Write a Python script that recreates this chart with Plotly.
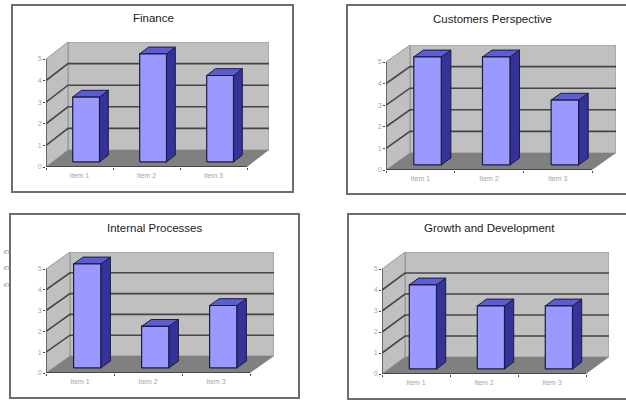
import plotly.graph_objects as go

# Scores per scorecard perspective
titles = ["Finance", "Customers Perspective", "Internal Processes", "Growth and Development"]
items = ["Item 1", "Item 2", "Item 3"]
finance = [3, 5, 4]
customers = [5, 5, 3]
internal = [5, 2, 3]
growth = [4, 3, 3]
value_ticks = [0, 1, 2, 3, 4, 5]
series = [finance, customers, internal, growth]

WIDTH, HEIGHT = 626, 400

# Panel placement in pixels: card frame, plot origin, front width, value-5 height, oblique depth
panels = [
    dict(frame=(12, 5, 293, 192), origin=(46, 167), w=201, h=108, dx=22, dy=17, title=(153, 18)),
    dict(frame=(347, 5, 660, 194), origin=(386, 170), w=206, h=108, dx=24, dy=17, title=(492, 19)),
    dict(frame=(10, 214, 299, 398), origin=(46, 373), w=204, h=104, dx=24, dy=17, title=(154, 228)),
    dict(frame=(348, 214, 660, 399), origin=(382, 374), w=204, h=105, dx=23, dy=17, title=(490, 228)),
]

WALL, FLOOR = "#c0c0c0", "#808080"
FRONT, TOP, SIDE = "#9999ff", "#5c5cd6", "#333399"
EDGE, GRID, BORDER = "#1c1c3c", "#454545", "#8a8a8a"
VMAX, NCAT = 5, 3
BAR_START, BAR_DEPTH, BAR_LEFT, BAR_WIDTH = 0.3, 0.4, 0.3, 0.4

fig = go.Figure()


def poly(axis, xs, ys, fill, line=None, width=1):
    fig.add_trace(go.Scatter(
        x=xs, y=ys, xaxis=f"x{axis}", yaxis=f"y{axis}", mode="lines",
        fill="toself" if fill else None, fillcolor=fill,
        line=dict(color=line or fill, width=width if line else 0),
        showlegend=False, hoverinfo="skip", cliponaxis=False,
    ))


shapes, annotations, layout_axes = [], [], {}

for n, (p, title, values) in enumerate(zip(panels, titles, series), start=1):
    ox, oy = p["origin"]
    # Depth expressed in data units so the oblique projection follows the axes
    cx = p["dx"] / (p["w"] / NCAT)
    cy = p["dy"] / (p["h"] / VMAX)

    def pt(x, v, d):
        return x + d * cx, v + d * cy

    # Card frame behind the plot
    x0, y0, x1, y1 = p["frame"]
    shapes.append(dict(type="rect", xref="paper", yref="paper", layer="below",
                       x0=x0 / WIDTH, x1=x1 / WIDTH, y0=1 - y0 / HEIGHT, y1=1 - y1 / HEIGHT,
                       fillcolor="white", line=dict(color="#6e6e6e", width=2)))

    # Back wall, side wall and floor
    bx = [pt(0, 0, 1)[0], pt(NCAT, 0, 1)[0], pt(NCAT, VMAX, 1)[0], pt(0, VMAX, 1)[0], pt(0, 0, 1)[0]]
    by = [pt(0, 0, 1)[1], pt(NCAT, 0, 1)[1], pt(NCAT, VMAX, 1)[1], pt(0, VMAX, 1)[1], pt(0, 0, 1)[1]]
    poly(n, bx, by, WALL, BORDER, 0.8)
    sx = [0, pt(0, 0, 1)[0], pt(0, VMAX, 1)[0], 0, 0]
    sy = [0, pt(0, 0, 1)[1], pt(0, VMAX, 1)[1], VMAX, 0]
    poly(n, sx, sy, WALL, BORDER, 0.8)
    fx = [0, NCAT, pt(NCAT, 0, 1)[0], pt(0, 0, 1)[0], 0]
    fy = [0, 0, pt(NCAT, 0, 1)[1], pt(0, 0, 1)[1], 0]
    poly(n, fx, fy, FLOOR)

    # Grid lines run along the side wall and across the back wall
    for v in value_ticks[1:-1]:
        a, b, c = pt(0, v, 0), pt(0, v, 1), pt(NCAT, v, 1)
        poly(n, [a[0], b[0], c[0]], [a[1], b[1], c[1]], None, GRID, 1.6)

    # Front axis lines
    poly(n, [0, 0], [0, VMAX], None, GRID, 1.3)
    poly(n, [0, NCAT], [0, 0], None, GRID, 1.8)

    # Oblique columns: side, top and front faces
    for i, v in enumerate(values):
        l, r = i + BAR_LEFT, i + BAR_LEFT + BAR_WIDTH
        d0, d1 = BAR_START, BAR_START + BAR_DEPTH
        corners = [pt(r, 0, d0), pt(r, 0, d1), pt(r, v, d1), pt(r, v, d0), pt(r, 0, d0)]
        poly(n, [c[0] for c in corners], [c[1] for c in corners], SIDE, EDGE, 1)
        corners = [pt(l, v, d0), pt(r, v, d0), pt(r, v, d1), pt(l, v, d1), pt(l, v, d0)]
        poly(n, [c[0] for c in corners], [c[1] for c in corners], TOP, EDGE, 1)
        corners = [pt(l, 0, d0), pt(r, 0, d0), pt(r, v, d0), pt(l, v, d0), pt(l, 0, d0)]
        poly(n, [c[0] for c in corners], [c[1] for c in corners], FRONT, EDGE, 1.2)

    tick_font = dict(family="Liberation Sans", size=7, color="#a6a6a6")
    suffix = "" if n == 1 else str(n)
    layout_axes[f"xaxis{suffix}"] = dict(
        domain=[ox / WIDTH, (ox + p["w"] + p["dx"]) / WIDTH],
        range=[0, NCAT + cx], anchor=f"y{suffix}" if n > 1 else "y",
        showgrid=False, zeroline=False, showline=False, fixedrange=True,
        tickmode="array", tickvals=[i + 0.5 for i in range(NCAT)], ticktext=items,
        ticks="", tickfont=tick_font, ticklabelstandoff=3, automargin=False,
        minor=dict(tickmode="array", tickvals=list(range(NCAT + 1)), ticks="outside",
                   ticklen=2, tickcolor=GRID, tickwidth=1, showgrid=False),
    )
    layout_axes[f"yaxis{suffix}"] = dict(
        domain=[1 - oy / HEIGHT, 1 - (oy - p["h"] - p["dy"]) / HEIGHT],
        range=[0, VMAX + cy], anchor=f"x{suffix}" if n > 1 else "x",
        showgrid=False, zeroline=False, showline=False, fixedrange=True, automargin=False,
        tickmode="array", tickvals=value_ticks, ticks="outside", ticklen=2,
        tickcolor=GRID, tickwidth=1, tickfont=tick_font,
    )

    annotations.append(dict(
        text=title, x=p["title"][0] / WIDTH, y=1 - p["title"][1] / HEIGHT,
        xref="paper", yref="paper", xanchor="center", yanchor="middle", showarrow=False,
        font=dict(family="Liberation Sans", size=11.5, color="#1a1a1a"),
    ))

# Small rotated marks left of the lower-left card
for py in (252, 268, 285):
    annotations.append(dict(
        text="5", x=6 / WIDTH, y=1 - py / HEIGHT, xref="paper", yref="paper",
        xanchor="center", yanchor="middle", showarrow=False, textangle=-90,
        font=dict(family="Liberation Sans", size=8, color="#909090"),
    ))

fig.update_layout(
    width=WIDTH, height=HEIGHT, autosize=False,
    margin=dict(l=0, r=0, t=0, b=0, pad=0, autoexpand=False),
    paper_bgcolor="white", plot_bgcolor="rgba(0,0,0,0)",
    shapes=shapes, annotations=annotations, showlegend=False,
    **layout_axes,
)

fig.write_html("out.html", config=dict(displayModeBar=False))
